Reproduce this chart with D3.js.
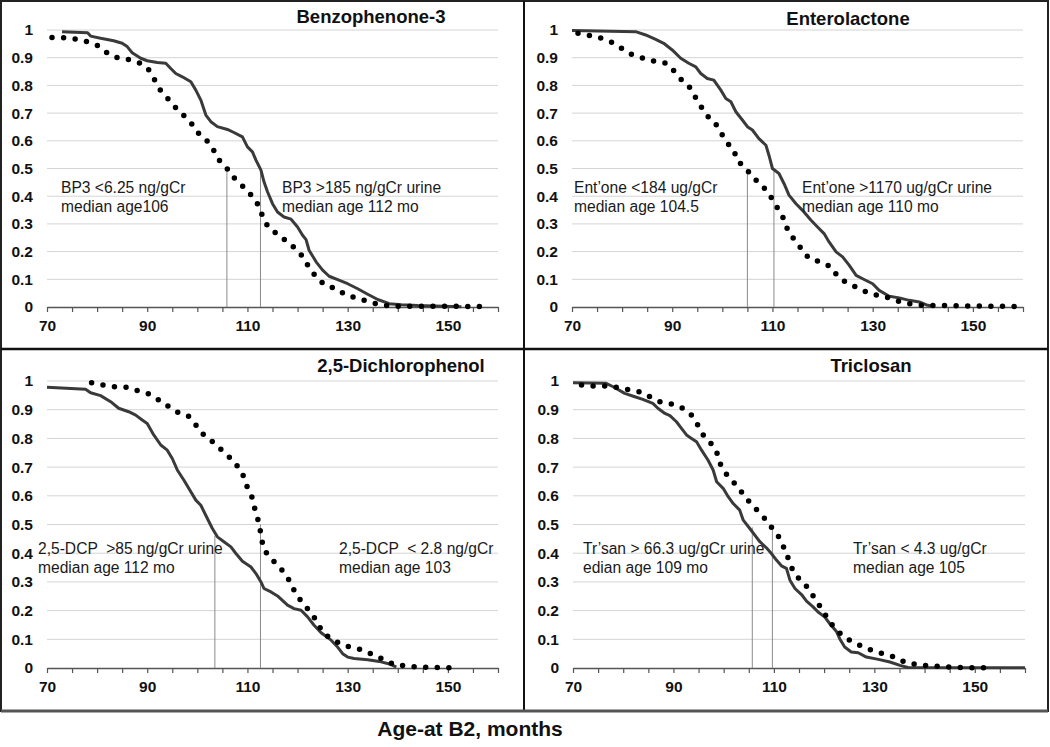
<!DOCTYPE html>
<html><head><meta charset="utf-8">
<script src="https://cdn.jsdelivr.net/npm/d3@7"></script>
<style>
html,body{margin:0;padding:0;background:#fff;}
svg{display:block;font-family:Arial,"Liberation Sans",sans-serif;}
.note{white-space:pre;}
</style></head>
<body>
<svg id="chart" width="1050" height="747"></svg>
<script>
// ---------- DATA ----------
const panelTitles = ["Benzophenone-3", "Enterolactone", "2,5-Dichlorophenol", "Triclosan"];
const xTicks = [70, 90, 110, 130, 150];
const yTicks = [0, 0.1, 0.2, 0.3, 0.4, 0.5, 0.6, 0.7, 0.8, 0.9, 1];
const xAxisTitle = "Age-at B2, months";

// [age in months, proportion not yet at B2]
const bp3Solid = [[73,0.994],[78.1,0.99],[78.7,0.978],[80.7,0.97],[83.3,0.961],[85,0.952],[86,0.94],[87,0.918],[88.7,0.898],[90,0.889],[92,0.883],[93.7,0.88],[94.7,0.861],[95.7,0.843],[97,0.831],[98.7,0.813],[99.7,0.783],[100.7,0.747],[101.7,0.693],[102.7,0.669],[104,0.651],[106,0.641],[107.3,0.63],[109,0.614],[110,0.578],[111,0.56],[111.7,0.53],[112.7,0.494],[113.3,0.452],[114,0.416],[115,0.373],[116,0.343],[117.3,0.325],[118.7,0.317],[120,0.289],[121,0.259],[121.7,0.243],[122.3,0.205],[123.7,0.163],[125,0.133],[126.3,0.111],[128,0.099],[130,0.084],[132,0.066],[134,0.046],[136,0.027],[138.3,0.012],[140.7,0.008],[144,0.005],[150.7,0.002],[152.7,0.001]];
const bp3Dotted = [[71,0.973],[73.3,0.972],[75.7,0.967],[77.9,0.958],[80,0.945],[81.9,0.919],[83.8,0.901],[86.1,0.894],[88.3,0.883],[90.2,0.859],[91.4,0.822],[92.5,0.786],[94,0.755],[95.5,0.723],[97.1,0.695],[98.7,0.666],[100,0.631],[101.7,0.605],[103.1,0.572],[104.1,0.535],[105.7,0.506],[106.9,0.473],[108.5,0.448],[110,0.416],[111.5,0.392],[112.5,0.353],[113.3,0.313],[114.5,0.28],[116.5,0.259],[118.1,0.231],[119.9,0.208],[121.3,0.175],[122.4,0.139],[123.9,0.105],[125.5,0.078],[127.8,0.066],[129.7,0.042],[131.9,0.033],[134,0.02],[136.4,0.008],[138.7,0.003],[157,0.002]];

const entSolid = [[70,0.998],[82.7,0.994],[84.7,0.982],[86.7,0.966],[88.3,0.952],[90,0.928],[91.7,0.898],[93.3,0.88],[94.7,0.867],[95.7,0.843],[97,0.825],[98.3,0.819],[99.7,0.783],[100.7,0.753],[101.7,0.741],[102.7,0.705],[104,0.675],[105,0.651],[106,0.639],[107.3,0.608],[108.7,0.584],[109.3,0.548],[110,0.5],[111.3,0.482],[112.3,0.446],[113.3,0.404],[114.7,0.373],[116,0.349],[117.7,0.313],[119,0.289],[120.3,0.265],[121.3,0.235],[122.7,0.199],[124,0.181],[125.3,0.151],[126.7,0.114],[128,0.102],[130,0.084],[131.3,0.06],[133.3,0.039],[135.3,0.033],[137.3,0.024],[139.3,0.018],[141,0.006],[142.3,0.002]];
const entDotted = [[71.2,0.988],[73.5,0.98],[75.9,0.97],[78,0.955],[79.9,0.934],[81.8,0.913],[83.9,0.9],[86.2,0.888],[88.5,0.882],[90.2,0.855],[91.7,0.823],[93.3,0.798],[94.5,0.761],[95.7,0.725],[97,0.69],[98.5,0.666],[99.7,0.63],[100.8,0.596],[102.3,0.566],[103,0.527],[104.7,0.502],[106,0.467],[107.7,0.446],[108.9,0.416],[110.3,0.382],[111.3,0.347],[112.5,0.311],[113.1,0.273],[114.5,0.241],[115.9,0.207],[117.3,0.175],[119.5,0.163],[121.7,0.145],[123,0.111],[124.8,0.087],[127,0.07],[129,0.052],[131,0.042],[133.3,0.033],[135.5,0.018],[137.8,0.01],[140,0.006],[158.3,0.002]];

const dcpSolid = [[70,0.978],[77.7,0.971],[78.7,0.959],[80.7,0.949],[82.7,0.928],[84.3,0.905],[86.3,0.893],[87.7,0.881],[89,0.864],[90,0.852],[91.3,0.812],[92.7,0.777],[94,0.759],[95,0.73],[96,0.69],[97.3,0.655],[98.7,0.614],[99.7,0.585],[100.7,0.567],[102,0.521],[103,0.486],[104,0.457],[105.3,0.44],[106.7,0.422],[107.7,0.399],[109,0.372],[110.7,0.352],[111.7,0.329],[112.7,0.3],[113.3,0.277],[114.7,0.265],[116,0.251],[118,0.219],[119.3,0.207],[120.7,0.201],[122,0.178],[123.3,0.149],[124.7,0.123],[126.7,0.097],[128,0.073],[129,0.05],[130,0.038],[131.3,0.033],[134,0.029],[136.3,0.023],[138.7,0.012],[139.7,0.003]];
const dcpDotted = [[78.9,0.994],[81.2,0.986],[83.5,0.98],[85.9,0.978],[88.1,0.966],[90.3,0.955],[92.3,0.934],[94.1,0.913],[96.1,0.891],[98.2,0.878],[99.7,0.847],[101,0.817],[102.8,0.792],[104.5,0.765],[106.2,0.738],[107.7,0.71],[109,0.678],[109.7,0.64],[110.8,0.602],[111.3,0.565],[112,0.524],[112.5,0.486],[112.8,0.448],[113.5,0.407],[115,0.376],[116.5,0.349],[117.9,0.32],[119,0.28],[120.2,0.245],[121.5,0.216],[123,0.187],[124,0.155],[125.2,0.12],[127,0.099],[129,0.081],[131,0.07],[133.2,0.062],[135.3,0.044],[137.3,0.029],[139.3,0.012],[141.7,0.007],[144,0.003],[146.3,0.003],[148.7,0.001],[151,0.001]];

const tcsSolid = [[70,0.994],[76.6,0.992],[78,0.98],[80.3,0.957],[82.3,0.945],[83.9,0.936],[85.9,0.922],[86.9,0.905],[88.3,0.887],[89.3,0.879],[90.6,0.858],[91.6,0.835],[92.6,0.812],[93.6,0.8],[94.6,0.788],[95.6,0.759],[96.9,0.724],[97.9,0.69],[98.6,0.649],[99.9,0.626],[100.9,0.597],[101.9,0.573],[103.2,0.55],[103.9,0.515],[105.2,0.486],[106.2,0.463],[107.2,0.44],[108.5,0.419],[109.5,0.399],[110.5,0.376],[111.5,0.356],[112.5,0.347],[113.2,0.306],[114.2,0.277],[115.5,0.256],[116.5,0.233],[117.8,0.213],[118.8,0.195],[120.1,0.178],[121.1,0.155],[122.5,0.126],[123.1,0.102],[124.1,0.073],[125.4,0.056],[126.8,0.053],[128.4,0.038],[130.8,0.03],[133.1,0.021],[135.1,0.009],[136.7,0.002],[160,0.001]];
const tcsDotted = [[71.7,0.986],[74,0.983],[76.3,0.983],[78.6,0.978],[80.8,0.971],[83.1,0.963],[85.3,0.945],[87.3,0.928],[89.6,0.92],[91.6,0.908],[93.6,0.881],[94.8,0.848],[95.9,0.813],[97.4,0.784],[98.6,0.753],[99.2,0.715],[100.3,0.68],[101.9,0.649],[103.4,0.617],[104.7,0.587],[106.2,0.558],[107.8,0.529],[109.3,0.495],[110.7,0.466],[111.7,0.431],[112.6,0.395],[113.3,0.358],[114.3,0.323],[116,0.297],[117.3,0.265],[118.5,0.233],[119.8,0.199],[120.9,0.166],[122.3,0.135],[124,0.108],[126,0.087],[128,0.073],[130,0.058],[132.1,0.048],[134.4,0.036],[136.4,0.017],[138.6,0.013],[140.8,0.007],[143,0.006],[145.4,0.003],[147.7,0.001],[152.3,0.001]];

// median reference lines: [age, proportion at top]
const bp3Medians = [[105.9,0.49],[112.6,0.49]];
const entMedians = [[105,0.5],[110.3,0.5]];
const dcpMedians = [[103.5,0.46],[112.6,0.5]];
const tcsMedians = [[105.7,0.49],[109.7,0.49]];

const bp3Notes = [["BP3 <6.25 ng/gCr","median age106"],["BP3 >185 ng/gCr urine","median age 112 mo"]];
const entNotes = [["Ent\u2019one <184 ug/gCr","median age 104.5"],["Ent\u2019one >1170 ug/gCr urine","median age 110 mo"]];
const dcpNotes = [["2,5-DCP  >85 ng/gCr urine","median age 112 mo"],["2,5-DCP  < 2.8 ng/gCr","median age 103"]];
const tcsNotes = [["Tr\u2019san > 66.3 ug/gCr urine","edian age 109 mo"],["Tr\u2019san < 4.3 ug/gCr","median age 105"]];

// ---------- LAYOUT ----------
const panels = [
  {title: panelTitles[0], solid: bp3Solid, dotted: bp3Dotted, medians: bp3Medians, notes: bp3Notes,
   x0: 47, x1: 498, y0: 30, y1: 307, titleX: 371, titleY: 23, noteX: [61, 282], noteY: 193},
  {title: panelTitles[1], solid: entSolid, dotted: entDotted, medians: entMedians, notes: entNotes,
   x0: 572, x1: 1023, y0: 30, y1: 307, titleX: 848, titleY: 25, noteX: [574, 802], noteY: 193},
  {title: panelTitles[2], solid: dcpSolid, dotted: dcpDotted, medians: dcpMedians, notes: dcpNotes,
   x0: 47, x1: 498, y0: 381, y1: 668, titleX: 401, titleY: 372, noteX: [38, 339], noteY: 554},
  {title: panelTitles[3], solid: tcsSolid, dotted: tcsDotted, medians: tcsMedians, notes: tcsNotes,
   x0: 573, x1: 1025, y0: 381, y1: 668, titleX: 871, titleY: 372, noteX: [583, 853], noteY: 554}
];

const svg = d3.select("#chart");

panels.forEach(p => {
  const x = d3.scaleLinear().domain([70, 160]).range([p.x0, p.x1]);
  const y = d3.scaleLinear().domain([0, 1]).range([p.y1, p.y0]);
  const g = svg.append("g");

  // gridlines
  g.append("g").selectAll("line").data(yTicks.filter(t => t > 0)).join("line")
    .attr("x1", p.x0).attr("x2", p.x1)
    .attr("y1", d => y(d)).attr("y2", d => y(d))
    .attr("stroke", "#d4d4d4").attr("stroke-width", 1);

  // y tick labels
  const ya = g.append("g").attr("transform", `translate(${p.x0},0)`)
    .call(d3.axisLeft(y).tickValues(yTicks).tickSize(0).tickPadding(14).tickFormat(d3.format("~g")));
  ya.select(".domain").remove();
  ya.selectAll("text").attr("font-size", 15.5).attr("font-weight", "bold").attr("fill", "#111")
    .attr("font-family", "Arial, 'Liberation Sans', sans-serif");

  // x axis with minor ticks every 5
  const xa = g.append("g").attr("transform", `translate(0,${p.y1})`)
    .call(d3.axisBottom(x).tickValues(d3.range(70, 161, 5)).tickSize(5).tickSizeOuter(0)
      .tickFormat(d => xTicks.includes(d) ? d : ""));
  xa.select(".domain").attr("stroke", "#555").attr("stroke-width", 1.5);
  xa.selectAll(".tick line").attr("stroke", "#555").attr("stroke-width", 1.2);
  xa.selectAll("text").attr("font-size", 15.5).attr("font-weight", "bold").attr("fill", "#111")
    .attr("dy", "1.05em").attr("font-family", "Arial, 'Liberation Sans', sans-serif");

  // median lines
  g.append("g").selectAll("line").data(p.medians).join("line")
    .attr("x1", d => x(d[0])).attr("x2", d => x(d[0]))
    .attr("y1", d => y(d[1])).attr("y2", y(0))
    .attr("stroke", "#8a8a8a").attr("stroke-width", 1);

  const line = d3.line().x(d => x(d[0])).y(d => y(d[1]));

  g.append("path").datum(p.solid).attr("d", line)
    .attr("fill", "none").attr("stroke", "#3a3a3a").attr("stroke-width", 3)
    .attr("stroke-linejoin", "round");

  g.append("path").datum(p.dotted).attr("d", line)
    .attr("fill", "none").attr("stroke", "#000").attr("stroke-width", 5.5)
    .attr("stroke-linecap", "round").attr("stroke-dasharray", "0 11.6");

  // title
  g.append("text").attr("x", p.titleX).attr("y", p.titleY).attr("text-anchor", "middle")
    .attr("font-size", 18.5).attr("font-weight", "bold").attr("fill", "#111").text(p.title);

  // notes
  p.notes.forEach((lines, i) => {
    const t = g.append("text").attr("class", "note").attr("x", p.noteX[i]).attr("y", p.noteY)
      .attr("font-size", 15.6).attr("fill", "#1a1a1a");
    lines.forEach((s, j) => t.append("tspan").attr("x", p.noteX[i]).attr("dy", j === 0 ? 0 : 19).text(s));
  });
});

// panel frame
const frame = svg.append("g").attr("fill", "none");
frame.append("rect").attr("x", 1).attr("y", 1).attr("width", 1047).attr("height", 710)
  .attr("stroke", "#222").attr("stroke-width", 2);
frame.append("line").attr("x1", 524).attr("x2", 524).attr("y1", 1).attr("y2", 711)
  .attr("stroke", "#111").attr("stroke-width", 2);
frame.append("line").attr("x1", 1).attr("x2", 1048).attr("y1", 349).attr("y2", 349)
  .attr("stroke", "#111").attr("stroke-width", 2.5);
frame.append("line").attr("x1", 1).attr("x2", 1048).attr("y1", 711).attr("y2", 711)
  .attr("stroke", "#555").attr("stroke-width", 3);

// x axis title
svg.append("text").attr("x", 470).attr("y", 736).attr("text-anchor", "middle")
  .attr("font-size", 21).attr("font-weight", "bold").attr("fill", "#111").text(xAxisTitle);
</script>
</body></html>
